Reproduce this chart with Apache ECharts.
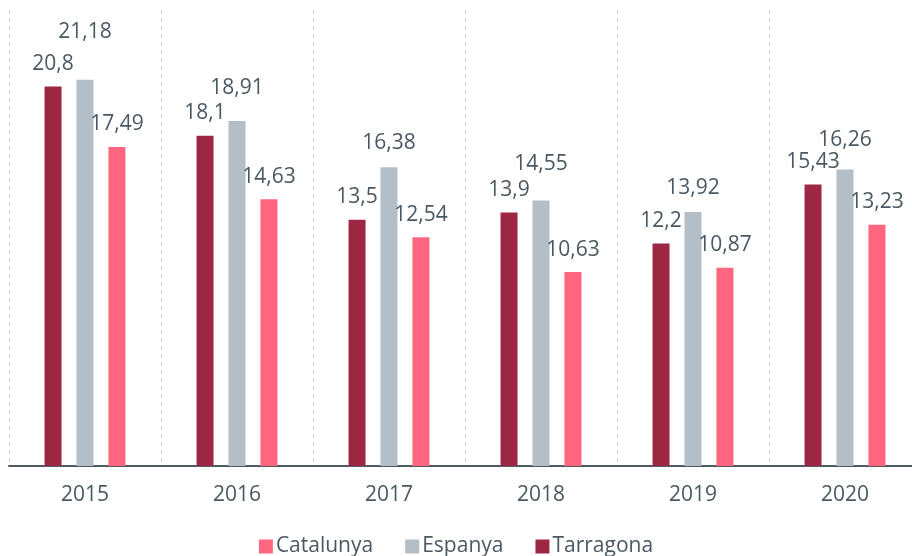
<!DOCTYPE html>
<html>
<head>
<meta charset="utf-8">
<script src="https://cdn.jsdelivr.net/npm/echarts@6/dist/echarts.min.js"></script>
<style>
html,body{margin:0;padding:0;background:#fff;}
#chart{width:912px;height:556px;}
</style>
</head>
<body>
<div id="chart"></div>
<script>
var years = ['2015', '2016', '2017', '2018', '2019', '2020'];
var tarragona = [20.8, 18.1, 13.5, 13.9, 12.2, 15.43];
var espanya = [21.18, 18.91, 16.38, 14.55, 13.92, 16.26];
var catalunya = [17.49, 14.63, 12.54, 10.63, 10.87, 13.23];
var legendOrder = ['Catalunya', 'Espanya', 'Tarragona'];

// label lift above the bar top for the grey series (label placement only)
var espanyaLabelDistance = [37, 23, 14, 26, 14, 19];

var textColor = '#4b5862';
var fontFamily = '"Open Sans", "Noto Sans", sans-serif';

function fmt(p) { return String(p.value).replace('.', ','); }

var baseLabel = {
  show: true,
  position: 'top',
  distance: 12,
  color: textColor,
  fontSize: 21,
  fontFamily: fontFamily,
  formatter: fmt
};

var chart = echarts.init(document.getElementById('chart'));
chart.setOption({
  animation: false,
  grid: { left: 9, top: 10, width: 912, bottom: 90, containLabel: false, outerBoundsMode: 'none' },
  legend: {
    data: legendOrder,
    top: 531,
    left: 'center',
    itemWidth: 14,
    itemHeight: 14,
    itemGap: 32,
    icon: 'rect',
    textStyle: { color: textColor, fontSize: 21, fontFamily: fontFamily, padding: [0, 0, 0, -2] }
  },
  xAxis: {
    type: 'category',
    data: years,
    axisLine: { show: true, lineStyle: { color: '#4f5b63', width: 2 } },
    axisTick: { show: false },
    axisLabel: { color: textColor, fontSize: 21, fontFamily: fontFamily, margin: 19 },
    splitLine: { show: true, lineStyle: { color: '#c9ced3', type: [4, 4], width: 1 } }
  },
  yAxis: {
    type: 'value',
    min: 0,
    max: 25,
    show: false,
    splitLine: { show: false }
  },
  series: [
    {
      name: 'Tarragona', type: 'bar', data: tarragona,
      barWidth: 17, barGap: '88%',
      itemStyle: { color: '#9e2843' },
      label: baseLabel
    },
    {
      name: 'Espanya', type: 'bar',
      data: espanya.map(function (v, i) {
        return { value: v, label: { distance: espanyaLabelDistance[i] } };
      }),
      barWidth: 17, barGap: '88%',
      itemStyle: { color: '#b4bec6' },
      label: baseLabel
    },
    {
      name: 'Catalunya', type: 'bar', data: catalunya,
      barWidth: 17, barGap: '88%',
      itemStyle: { color: '#ff6680' },
      label: baseLabel
    }
  ]
});
</script>
</body>
</html>
